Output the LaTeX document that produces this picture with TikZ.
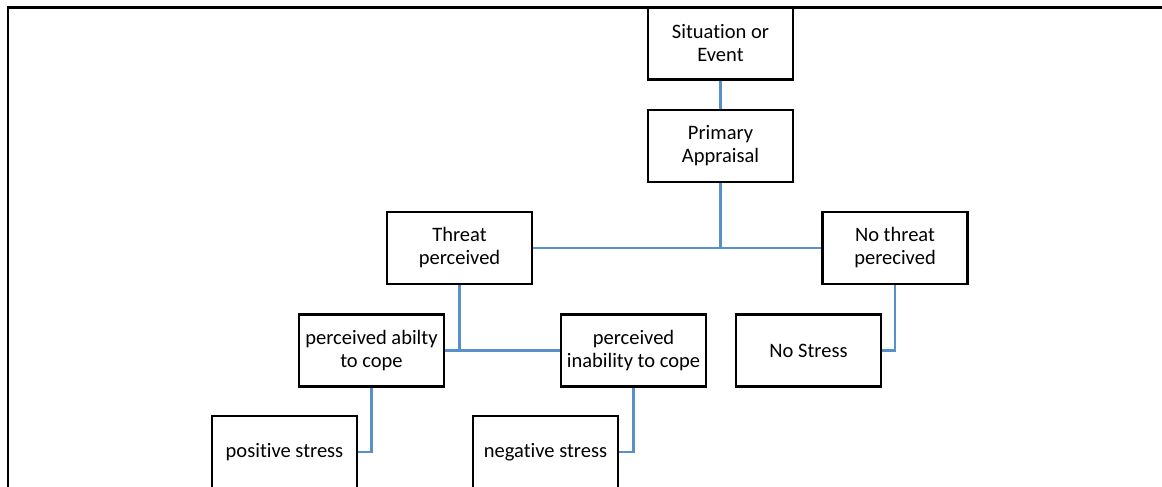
\documentclass[tikz,border=0pt]{standalone}
\usepackage{fontspec}
\setmainfont{Carlito}[Ligatures=NoCommon]
\definecolor{linkblue}{RGB}{88,144,204}
\begin{document}
\begin{tikzpicture}[x=1pt,y=-1pt,
  stagebox/.style={draw=black,line width=2.3pt,fill=white,minimum width=145pt,
    minimum height=72pt,inner sep=1pt,align=center,
    font=\fontsize{20.5}{23}\selectfont},
  link/.style={draw=linkblue,line width=2.5pt}]
\useasboundingbox (0,0) rectangle (1162,487);
\clip (0,0) rectangle (1162,487);
% page frame
\draw[line width=2.4pt] (8,490) -- (8,7.5) -- (1165,7.5);
% boxes
\node[stagebox] (sit) at (720.5,43.5) {Situation or\\Event};
\node[stagebox] (prim) at (720.5,146) {Primary\\Appraisal};
\node[stagebox] (threat) at (459.5,248) {Threat\\perceived};
\node[stagebox] (nothreat) at (895,248) {No threat\\perecived};
\node[stagebox] (able) at (371.5,350.5) {perceived abilty\\to cope};
\node[stagebox] (unable) at (633.5,350.5) {perceived\\inability to cope};
\node[stagebox] (nostress) at (808.5,350.5) {No Stress};
\node[stagebox] (pos) at (284.5,452) {positive stress};
\node[stagebox] (neg) at (545.5,452) {negative stress};
% connectors between the boxes
\draw[link] (sit.south) -- (prim.north);
\draw[link] (prim.south) -- (prim |- threat.east);
\draw[link] (threat.east) -- (nothreat.west);
\draw[link] (threat.south) -- (threat |- able.east);
\draw[link] (able.east) -- (unable.west);
\draw[link] (nothreat.south) |- (nostress.east);
\draw[link] (able.south) |- (pos.east);
\draw[link] (unable.south) |- (neg.east);
\end{tikzpicture}
\end{document}
